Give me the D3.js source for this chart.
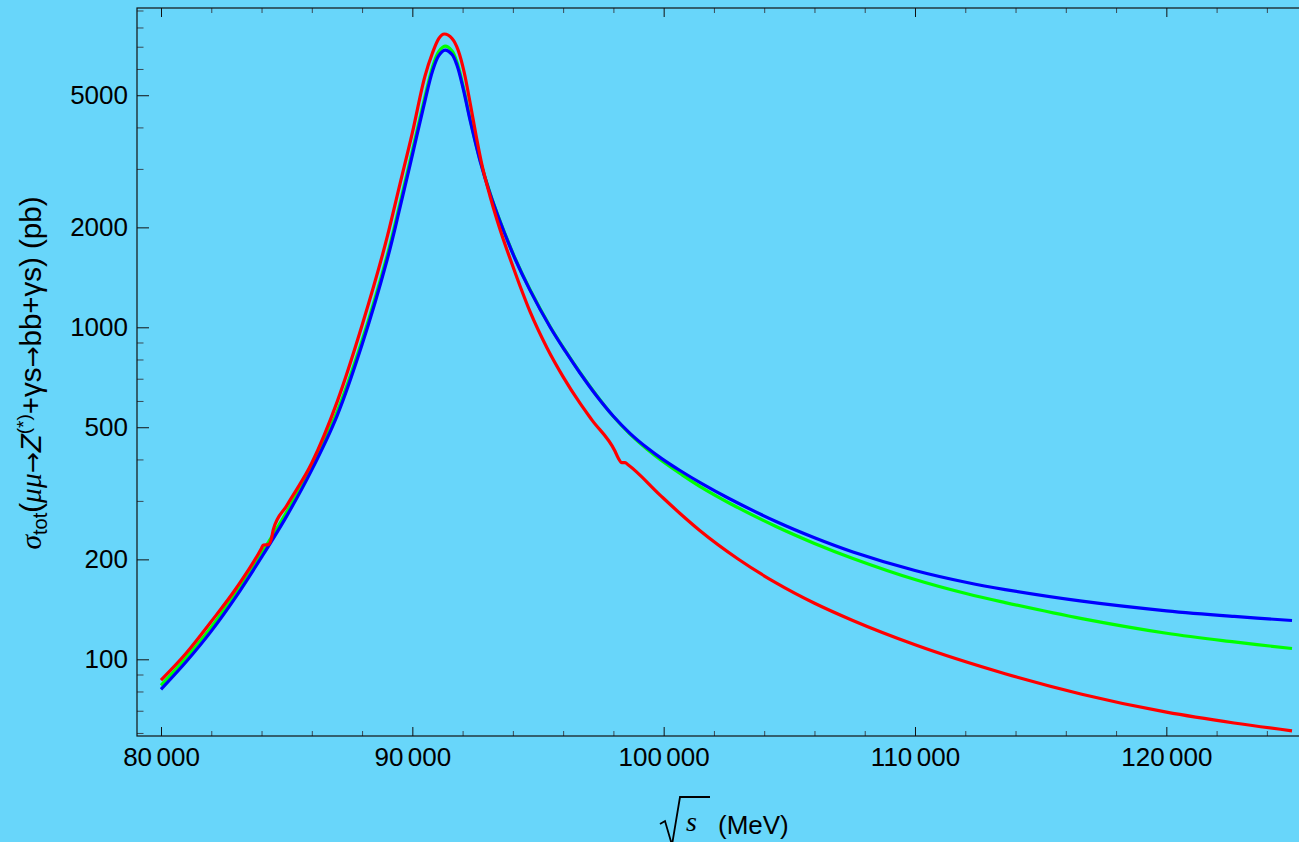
<!DOCTYPE html>
<html>
<head>
<meta charset="utf-8">
<script src="https://cdn.jsdelivr.net/npm/d3@7"></script>
<style>
html, body { margin: 0; padding: 0; background: #68d6fa; }
svg { display: block; }
text { font-family: "Liberation Sans", Arial, sans-serif; fill: #000; }
</style>
</head>
<body>
<svg width="1299" height="842"></svg>
<script>
// sqrt(s) in MeV, shared by the blue and green curves
const energy = [80000, 81000, 82000, 83000, 84000, 85000, 86000, 87000, 88000, 89000, 89500,
  90000, 90500, 90800, 91050, 91300, 91580, 91780, 92020, 92300, 92690, 93090, 93490, 94090,
  94680, 95480, 96080, 96670, 97350, 97990, 98660, 99340, 99980, 100650, 101450, 102640,
  104470, 106000, 107530, 110000, 112070, 113590, 116640, 120010, 122700, 125000];

// cross sections in pb
const sigmaBlue = [81.2, 98.3, 121.6, 155, 203, 270, 372, 540, 887, 1600, 2280,
  3300, 4800, 5900, 6580, 6840, 6632, 6146, 5247, 4197, 3180, 2529, 2083, 1606,
  1294, 1002, 848.5, 728.2, 618.6, 540.5, 479.4, 433.6, 399.5, 370.4, 340.6, 304.0,
  260.1, 232.4, 210.6, 185.1, 170.3, 162.2, 149.7, 140.0, 134.6, 130.9];

const sigmaGreen = [83.5, 101.1, 125, 159.3, 208.7, 277.6, 382.4, 555, 912, 1645, 2344,
  3392, 4934, 6065, 6764, 7030, 6798, 6269, 5326, 4239, 3199, 2539, 2091, 1612,
  1299, 1006, 852, 731, 621, 539.4, 476.8, 429.1, 393.4, 362.8, 331.3, 294.7,
  251.2, 223.4, 201.3, 173.9, 157.5, 148.2, 132.6, 119.8, 112.8, 107.8];

// the red curve has its own sampling (it has two small steps)
const energyRed = [80000, 81000, 82000, 83000, 84000, 84070, 84270, 84400, 84470, 85000, 86000,
  87000, 88000, 89000, 89500, 90000, 90500, 90800, 91050, 91273, 91580, 91820, 92060, 92300,
  92540, 92770, 93090, 93370, 93690, 94010, 94330, 94680, 95360, 96000, 96670, 97150, 98066,
  98197, 98333, 98464, 98595, 99857, 100652, 101448, 102960, 104472, 106004, 107524, 110002,
  113584, 116635, 120005, 122694, 125000];

const sigmaRed = [86.6, 104.3, 130, 164, 216, 221, 221.5, 232, 246, 290, 390,
  594, 1014, 1872, 2686, 3850, 5700, 6700, 7400, 7645, 7412, 6842, 5875, 4738,
  3769, 3083, 2486, 2106, 1776, 1519, 1304, 1116, 866.3, 709.4, 590.8, 525.2, 423.2,
  403.1, 391, 391, 384.8, 312.3, 274.9, 243.9, 200.5, 169.9, 147.5, 130.9, 110.6,
  90.5, 78.5, 69.3, 64.3, 60.9];

const xMajor = [80000, 90000, 100000, 110000, 120000];
const xMinor = [82000, 84000, 86000, 88000, 92000, 94000, 96000, 98000, 102000, 104000, 106000,
  108000, 112000, 114000, 116000, 118000, 122000, 124000];
const yMajor = [100, 200, 500, 1000, 2000, 5000];
const yMinor = [60, 70, 80, 90, 300, 400, 600, 700, 800, 900, 3000, 4000, 6000, 7000, 8000, 9000];

const plotLeft = 137, plotRight = 1316, plotTop = 8, plotBottom = 736;

const svg = d3.select("svg");

const x = d3.scaleLinear().domain([79045, 125955]).range([plotLeft, plotRight]);
const y = d3.scaleLog().domain([58.75, 9157]).range([plotBottom, plotTop]);

// thousands with a thin gap, as in the picture
function splitThousands(g) {
  g.selectAll(".tick text").each(function(d) {
    const s = String(d);
    const t = d3.select(this).text(null);
    t.append("tspan").text(s.slice(0, s.length - 3));
    t.append("tspan").attr("dx", "0.17em").text(s.slice(-3));
  });
}

function styleAxis(g, colour) {
  g.select(".domain").remove();
  g.selectAll(".tick line").attr("stroke", colour);
  g.selectAll(".tick text").style("font-size", "26px");
}

// bottom axis
svg.append("g")
  .attr("transform", `translate(0,${plotBottom})`)
  .call(d3.axisBottom(x).tickValues(xMinor).tickSize(-5).tickFormat(""))
  .call(g => styleAxis(g, "#3a4a55"));
svg.append("g")
  .attr("transform", `translate(0,${plotBottom})`)
  .call(d3.axisBottom(x).tickValues(xMajor).tickSize(-9).tickPadding(12))
  .call(g => styleAxis(g, "#111"))
  .call(splitThousands);

// top frame ticks
svg.append("g")
  .attr("transform", `translate(0,${plotTop})`)
  .call(d3.axisTop(x).tickValues(xMinor).tickSize(-5).tickFormat(""))
  .call(g => styleAxis(g, "#3a4a55"));
svg.append("g")
  .attr("transform", `translate(0,${plotTop})`)
  .call(d3.axisTop(x).tickValues(xMajor).tickSize(-9).tickFormat(""))
  .call(g => styleAxis(g, "#111"));

// left axis
svg.append("g")
  .attr("transform", `translate(${plotLeft},0)`)
  .call(d3.axisLeft(y).tickValues(yMinor).tickSize(-6.5).tickFormat(""))
  .call(g => styleAxis(g, "#3a4a55"));
svg.append("g")
  .attr("transform", `translate(${plotLeft},0)`)
  .call(d3.axisLeft(y).tickValues(yMajor).tickSize(-12).tickPadding(9).tickFormat(d3.format("d")))
  .call(g => styleAxis(g, "#111"));

// frame
svg.append("rect")
  .attr("x", plotLeft).attr("y", plotTop)
  .attr("width", plotRight - plotLeft).attr("height", plotBottom - plotTop)
  .attr("fill", "none").attr("stroke", "#111").attr("stroke-width", 1.2);

// curves
const smoothLine = d3.line()
  .x(d => x(d[0]))
  .y(d => y(d[1]))
  .curve(d3.curveCatmullRom.alpha(0.5));
const stepLine = d3.line()
  .x(d => x(d[0]))
  .y(d => y(d[1]))
  .curve(d3.curveMonotoneX);

const series = [
  { e: energy, s: sigmaGreen, colour: "#00ff00", gen: smoothLine },
  { e: energy, s: sigmaBlue, colour: "#0000ff", gen: smoothLine },
  { e: energyRed, s: sigmaRed, colour: "#ff0000", gen: stepLine }
];

svg.append("g").selectAll("path")
  .data(series)
  .join("path")
  .attr("d", d => d.gen(d.e.map((v, i) => [v, d.s[i]])))
  .attr("fill", "none")
  .attr("stroke", d => d.colour)
  .attr("stroke-width", 3.2)
  .attr("stroke-linejoin", "round");

// y axis title
const serif = "'Liberation Serif', serif";
const arrowFont = "'DejaVu Sans', sans-serif";
const yl = svg.append("text")
  .attr("transform", "translate(41,373) rotate(-90)")
  .attr("text-anchor", "middle")
  .style("font-size", "29.5px");
yl.append("tspan").style("font-family", serif).style("font-style", "italic").text("σ");
yl.append("tspan").attr("dy", 6).style("font-size", "20px").text("tot");
yl.append("tspan").attr("dy", -6).text("(");
yl.append("tspan").style("font-family", serif).style("font-style", "italic").text("μμ");
yl.append("tspan").style("font-family", arrowFont).style("font-size", "25px").text("→");
yl.append("tspan").style("font-style", "italic").text("Z");
yl.append("tspan").attr("dy", -11).style("font-size", "19px").text("(*)");
yl.append("tspan").attr("dy", 11).text("+γs");
yl.append("tspan").style("font-family", arrowFont).style("font-size", "25px").text("→");
yl.append("tspan").text("bb+γs) (pb)");

// x axis title
svg.append("path")
  .attr("d", "M660,824 L665,821 L672,845 L680,797 L710,797")
  .attr("fill", "none").attr("stroke", "#000").attr("stroke-width", 1.8);
svg.append("text")
  .attr("x", 686).attr("y", 831)
  .style("font-family", serif)
  .style("font-style", "italic")
  .style("font-size", "28px")
  .text("s");
svg.append("text")
  .attr("x", 718).attr("y", 834)
  .style("font-size", "26px")
  .text("(MeV)");
</script>
</body>
</html>
